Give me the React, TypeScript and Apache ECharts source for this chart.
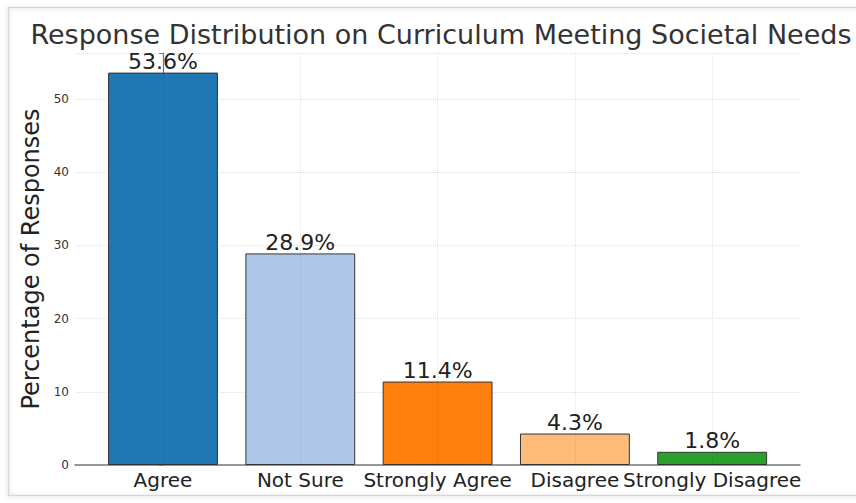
import React, { useEffect, useRef } from "react";
import * as echarts from "echarts";

const categories = ["Agree", "Not Sure", "Strongly Agree", "Disagree", "Strongly Disagree"];
const values = [53.6, 28.9, 11.4, 4.3, 1.8];
const barColors = ["#1f77b4", "#aec7e8", "#ff7f0e", "#ffbb78", "#2ca02c"];
const yTicks = [0, 10, 20, 30, 40, 50];

const FONT = "DejaVu Sans";

export default function App() {
  const ref = useRef<HTMLDivElement>(null);
  useEffect(() => {
    if (!ref.current) return;
    const chart = echarts.init(ref.current, null, { renderer: "svg" });
    const yMax = 56.28;
    chart.setOption({
      animation: false,
      backgroundColor: "#ffffff",
      title: {
        text: "Response Distribution on Curriculum Meeting Societal Needs",
        left: 436,
        textAlign: "center",
        top: 16,
        textStyle: { fontFamily: FONT, fontSize: 27, fontWeight: "normal", color: "#333" },
      },
      graphic: [
        {
          type: "rect",
          shape: { x: 8.5, y: 7.5, width: 860, height: 488 },
          style: { fill: "none", stroke: "#d6d6d6", lineWidth: 1.5, shadowBlur: 4, shadowColor: "rgba(0,0,0,0.18)" },
          silent: true,
          z: -1,
        },
      ],
      grid: [
        { left: 75, right: 56, top: 53, bottom: 38 },
        { left: 94.35, width: 686.5, top: 53, bottom: 38 },
      ],
      xAxis: [
        {
          type: "value",
          gridIndex: 0,
          min: -0.64,
          max: 4.64,
          axisLine: { show: true, lineStyle: { color: "#777", width: 1.5 } },
          axisTick: { show: false },
          axisLabel: { show: false },
          splitLine: { show: false },
        },
        {
          type: "category",
          gridIndex: 1,
          data: categories,
          axisLine: { show: false },
          axisTick: { show: false },
          axisLabel: { fontFamily: FONT, fontSize: 20, color: "#222", margin: 5, interval: 0 },
          splitLine: { show: false },
        },
      ],
      yAxis: [
        {
          type: "value",
          gridIndex: 0,
          min: 0,
          max: yMax,
          interval: 10,
          name: "Percentage of Responses",
          nameLocation: "middle",
          nameGap: 29,
          nameTextStyle: { fontFamily: FONT, fontSize: 24, color: "#222" },
          axisLine: { show: true, lineStyle: { color: "#777", width: 1.2 } },
          axisTick: { show: true, length: 4, lineStyle: { color: "#777" } },
          axisLabel: {
            fontFamily: FONT,
            fontSize: 12,
            color: "#333",
            margin: 6,
            formatter: (v: number) => (yTicks.includes(v) ? String(v) : ""),
          },
          splitLine: { show: true, lineStyle: { color: "#e0e0e0", type: "dotted", width: 1 } },
        },
        {
          type: "value",
          gridIndex: 1,
          min: 0,
          max: yMax,
          show: false,
          splitLine: { show: false },
        },
      ],
      series: [
        {
          type: "bar",
          xAxisIndex: 1,
          yAxisIndex: 1,
          barWidth: "80%",
          data: values.map((v, i) => ({
            value: v,
            itemStyle: { color: barColors[i], borderColor: "#333", borderWidth: 1 },
          })),
          label: {
            show: true,
            position: "top",
            distance: 0,
            fontFamily: FONT,
            fontSize: 22,
            color: "#222",
            formatter: (p: any) => `${p.value}%`,
          },
          markLine: {
            silent: true,
            symbol: "none",
            label: { show: false },
            lineStyle: { color: "rgba(0,0,0,0.1)", type: "dotted", width: 1 },
            data: categories.map((c) => ({ xAxis: c })),
          },
        },
      ],
    });
    return () => chart.dispose();
  }, []);
  return (
    <div
      ref={ref}
      style={{ position: "absolute", left: 0, top: 0, width: 856, height: 503 }}
    />
  );
}
